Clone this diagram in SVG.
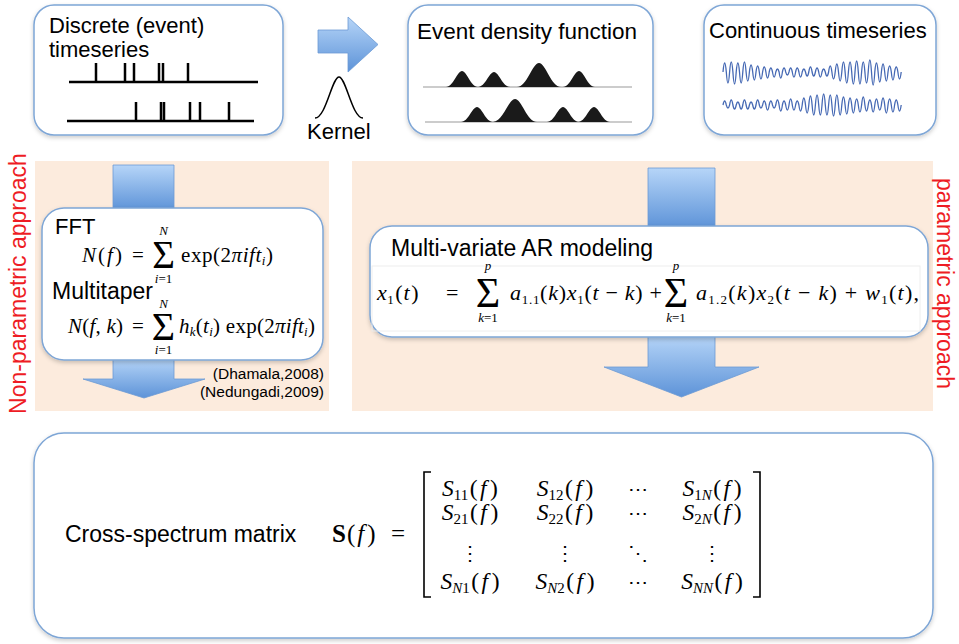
<svg xmlns="http://www.w3.org/2000/svg" width="959" height="644" viewBox="0 0 959 644">
<defs>
<linearGradient id="blue" x1="0" y1="0" x2="0" y2="1"><stop offset="0" stop-color="#b6d5f8"/><stop offset="1" stop-color="#5d93d8"/></linearGradient>
<filter id="sh" x="-10%" y="-10%" width="120%" height="130%"><feDropShadow dx="0" dy="2" stdDeviation="2" flood-color="#000" flood-opacity="0.2"/></filter>
</defs>
<style>
.box{fill:#fff;stroke:#7ea6d6;stroke-width:1.5;filter:url(#sh)}
.panel{fill:#fcebdd}
.arrow{fill:url(#blue);stroke:#6c9bd4;stroke-width:0.8}
.t{font-family:"Liberation Sans",Arial,sans-serif;font-size:22px;fill:#000}
.red{font-family:"Liberation Sans",Arial,sans-serif;font-size:23px;fill:#ee1c24}
.m{font-family:"Liberation Serif","Times New Roman",serif;font-size:21px;fill:#000}
.i{font-style:italic}
.sm{font-size:13px}
.sig{font-family:"Liberation Serif","Times New Roman",serif;fill:#000}
.ev{stroke:#000;stroke-width:2.5;fill:none}
.base{stroke:#999;stroke-width:1;fill:none}
.bump{fill:#1a1a1a}
.wave{stroke:#4669b4;stroke-width:1.3;fill:none;stroke-linejoin:round}
.mx{font-family:"Liberation Serif","Times New Roman",serif;font-size:23.5px;fill:#000}
.sub{font-size:15px}
.dots{font-family:"DejaVu Serif",serif;font-size:20px;fill:#000}
</style>
<rect width="959" height="644" fill="#fff"/>

<g id="panel-nonparametric">
<rect class="panel" x="35" y="161" width="294" height="250"/>
<text class="red" transform="translate(26,283.5) rotate(-90)" text-anchor="middle">Non-parametric approach</text>
</g>
<g id="panel-parametric">
<rect class="panel" x="352" y="161" width="581" height="250"/>
<text class="red" transform="translate(937,283.5) rotate(90)" text-anchor="middle">parametric approach</text>
</g>

<g id="connectors">
<path class="arrow" d="M318,30 H348 V17 L378,44.5 L348,72 V53 H318 Z"/>
<path class="arrow" d="M113,165 H174 V210 H113 Z"/>
<path class="arrow" d="M113,358 H174 V379 H205 L144,398 L83,379 H113 Z"/>
<path class="arrow" d="M648,168 H715 V228 H648 Z"/>
<path class="arrow" d="M648,335 H715 V367 H759 L681.5,397 L604,367 H648 Z"/>
</g>

<g id="discrete">
<rect class="box" x="34" y="5" width="249" height="130" rx="20"/>
<text class="t" x="49" y="33">Discrete (event)</text>
<text class="t" x="49" y="57">timeseries</text>
<path class="ev" d="M69,82 H258 M96,63 V82 M125,63 V82 M134,63 V82 M159,63 V82 M163,63 V82 M188,63 V82"/>
<path class="ev" d="M67,121 H254 M136,102 V121 M161,102 V121 M164,102 V121 M190,102 V121 M200,102 V121 M229,102 V121"/>
</g>

<g id="kernel">
<path d="M315,118 C326,118 332,77 339,77 C346,77 352,118 363,118" fill="none" stroke="#000" stroke-width="1.5"/>
<text class="t" x="307" y="139">Kernel</text>
</g>

<g id="density">
<rect class="box" x="408" y="5" width="245" height="130" rx="20"/>
<text class="t" x="417" y="39" style="font-size:22.5px">Event density function</text>
<path class="base" d="M423,87 H632 M425,122 H632"/>
<path class="bump" d="M446,87 C453.2,87 457.2,71 462,71 C466.8,71 470.8,87 478,87 Z M478,87 C485.2,87 489.2,72 494,72 C498.8,72 502.8,87 510,87 Z M517,87 C526.9,87 532.4,63 539,63 C545.6,63 551.1,87 561,87 Z M563,87 C570.2,87 574.2,71 579,71 C583.8,71 587.8,87 595,87 Z"/>
<path class="bump" d="M461,122 C468.2,122 472.2,107 477,107 C481.8,107 485.8,122 493,122 Z M493,122 C502.9,122 508.4,99 515,99 C521.6,99 527.1,122 537,122 Z M547,122 C554.2,122 558.2,107 563,107 C567.8,107 571.8,122 579,122 Z M578,122 C585.2,122 589.2,107 594,107 C598.8,107 602.8,122 610,122 Z"/>
</g>

<g id="continuous">
<rect class="box" x="704" y="5" width="232" height="130" rx="20"/>
<text class="t" x="709" y="38">Continuous timeseries</text>
<path class="wave" d="M723,72 q1.65,-18 3.3,0 q1.65,22 3.3,0 q1.65,-20 3.3,0 q1.65,24 3.3,0 q1.65,-18 3.3,0 q1.65,22 3.3,0 q1.65,-20 3.3,0 q1.65,18 3.3,0 q1.65,-14 3.3,0 q1.65,16 3.3,0 q1.65,-12 3.3,0 q1.65,14 3.3,0 q1.65,-10 3.3,0 q1.65,12 3.3,0 q1.65,-8 3.3,0 q1.65,10 3.3,0 q1.65,-6 3.3,0 q1.65,12 3.3,0 q1.65,-8 3.3,0 q1.65,6 3.3,0 q1.65,-8 3.3,0 q1.65,10 3.3,0 q1.65,-8 3.3,0 q1.65,10 3.3,0 q1.65,-6 3.3,0 q1.65,8 3.3,0 q1.65,-10 3.3,0 q1.65,8 3.3,0 q1.65,-8 3.3,0 q1.65,10 3.3,0 q1.65,-6 3.3,0 q1.65,8 3.3,0 q1.65,-12 3.3,0 q1.65,14 3.3,0 q1.65,-16 3.3,0 q1.65,18 3.3,0 q1.65,-20 3.3,0 q1.65,22 3.3,0 q1.65,-20 3.3,0 q1.65,24 3.3,0 q1.65,-22 3.3,0 q1.65,24 3.3,0 q1.65,-20 3.3,0 q1.65,22 3.3,0 q1.65,-24 3.3,0 q1.65,26 3.3,0 q1.65,-18 3.3,0 q1.65,20 3.3,0 q1.65,-16 3.3,0 q1.65,18 3.3,0 q1.65,-12 3.3,0 q1.65,16 3.3,0 q1.65,-10 3.3,0 q1.65,14 3.3,0"/>
<path class="wave" d="M723,105 q1.65,-8 3.3,0 q1.65,6 3.3,0 q1.65,-10 3.3,0 q1.65,8 3.3,0 q1.65,-6 3.3,0 q1.65,8 3.3,0 q1.65,-10 3.3,0 q1.65,8 3.3,0 q1.65,-6 3.3,0 q1.65,8 3.3,0 q1.65,-10 3.3,0 q1.65,6 3.3,0 q1.65,-8 3.3,0 q1.65,10 3.3,0 q1.65,-8 3.3,0 q1.65,6 3.3,0 q1.65,-10 3.3,0 q1.65,12 3.3,0 q1.65,-8 3.3,0 q1.65,10 3.3,0 q1.65,-12 3.3,0 q1.65,10 3.3,0 q1.65,-8 3.3,0 q1.65,12 3.3,0 q1.65,-14 3.3,0 q1.65,16 3.3,0 q1.65,-18 3.3,0 q1.65,20 3.3,0 q1.65,-20 3.3,0 q1.65,20 3.3,0 q1.65,-22 3.3,0 q1.65,20 3.3,0 q1.65,-20 3.3,0 q1.65,22 3.3,0 q1.65,-20 3.3,0 q1.65,20 3.3,0 q1.65,-16 3.3,0 q1.65,18 3.3,0 q1.65,-14 3.3,0 q1.65,16 3.3,0 q1.65,-12 3.3,0 q1.65,14 3.3,0 q1.65,-16 3.3,0 q1.65,12 3.3,0 q1.65,-10 3.3,0 q1.65,14 3.3,0 q1.65,-12 3.3,0 q1.65,10 3.3,0 q1.65,-14 3.3,0 q1.65,16 3.3,0 q1.65,-12 3.3,0 q1.65,14 3.3,0 q1.65,-10 3.3,0 q1.65,12 3.3,0"/>
</g>

<g id="fft-multitaper">
<rect class="box" x="42" y="208" width="281" height="152" rx="22"/>
<text class="t" x="55" y="234">FFT</text>
<text class="m" x="82" y="262" textLength="40" lengthAdjust="spacing"><tspan class="i">N</tspan>(<tspan class="i">f</tspan>)</text>
<text class="m" x="132" y="262">=</text>
<text class="sig" x="163.5" y="268" style="font-size:39px" text-anchor="middle">Σ</text>
<text class="m sm i" x="163.5" y="235" text-anchor="middle">N</text>
<text class="m sm" x="163.5" y="283" text-anchor="middle"><tspan class="i">i</tspan>=1</text>
<text class="m" x="181" y="262" textLength="92" lengthAdjust="spacing">exp(2<tspan class="i">πift</tspan><tspan class="sm i" dy="3">i</tspan><tspan dy="-3">)</tspan></text>
<text class="t" x="52" y="299" style="font-size:23px">Multitaper</text>
<text class="m" x="68" y="333" textLength="55" lengthAdjust="spacing"><tspan class="i">N</tspan>(<tspan class="i">f</tspan>, <tspan class="i">k</tspan>)</text>
<text class="m" x="132" y="333">=</text>
<text class="sig" x="163.5" y="340" style="font-size:40px" text-anchor="middle">Σ</text>
<text class="m sm i" x="163.5" y="308" text-anchor="middle">N</text>
<text class="m sm" x="163.5" y="354" text-anchor="middle"><tspan class="i">i</tspan>=1</text>
<text class="m" x="179" y="333" textLength="136" lengthAdjust="spacing"><tspan class="i">h</tspan><tspan class="sm i" dy="3">k</tspan><tspan dy="-3">(</tspan><tspan class="i">t</tspan><tspan class="sm i" dy="3">i</tspan><tspan dy="-3">) exp(2</tspan><tspan class="i">πift</tspan><tspan class="sm i" dy="3">i</tspan><tspan dy="-3">)</tspan></text>
</g>

<g id="citations">
<text class="t" x="324" y="379" style="font-size:15.5px" text-anchor="end">(Dhamala,2008)</text>
<text class="t" x="324" y="397" style="font-size:15.5px" text-anchor="end">(Nedungadi,2009)</text>
</g>

<g id="ar-model">
<rect class="box" x="370" y="226" width="558" height="111" rx="22"/>
<rect x="372" y="266" width="548" height="65" fill="none" stroke="#eeeeee" stroke-width="1"/>
<text class="t" x="391" y="256" style="font-size:23px">Multi-variate AR modeling</text>
<text class="m" x="377" y="300" style="font-size:22px"><tspan class="i">x</tspan><tspan class="sm" dy="4" dx="0.5">1</tspan><tspan dy="-4" dx="1.5">(</tspan><tspan class="i" dx="1">t</tspan><tspan dx="1.5">)</tspan></text>
<text class="m" x="446" y="300" style="font-size:22px">=</text>
<text class="sig" x="488" y="307" style="font-size:42px" text-anchor="middle">Σ</text>
<text class="m sm i" x="488" y="270" text-anchor="middle">p</text>
<text class="m sm" x="488" y="322" text-anchor="middle"><tspan class="i">k</tspan>=1</text>
<text class="m" x="510" y="300" style="font-size:22px" textLength="152" lengthAdjust="spacing"><tspan class="i">a</tspan><tspan class="sm" dy="4">1.1</tspan><tspan dy="-4">(</tspan><tspan class="i">k</tspan>)<tspan class="i">x</tspan><tspan class="sm" dy="4">1</tspan><tspan dy="-4">(</tspan><tspan class="i">t</tspan> − <tspan class="i">k</tspan>) +</text>
<text class="sig" x="676" y="307" style="font-size:42px" text-anchor="middle">Σ</text>
<text class="m sm i" x="676" y="270" text-anchor="middle">p</text>
<text class="m sm" x="676" y="322" text-anchor="middle"><tspan class="i">k</tspan>=1</text>
<text class="m" x="696" y="300" style="font-size:22px" textLength="223" lengthAdjust="spacing"><tspan class="i">a</tspan><tspan class="sm" dy="4">1.2</tspan><tspan dy="-4">(</tspan><tspan class="i">k</tspan>)<tspan class="i">x</tspan><tspan class="sm" dy="4">2</tspan><tspan dy="-4">(</tspan><tspan class="i">t</tspan> − <tspan class="i">k</tspan>) + <tspan class="i">w</tspan><tspan class="sm" dy="4">1</tspan><tspan dy="-4">(</tspan><tspan class="i">t</tspan>),</text>
</g>

<g id="cross-spectrum">
<rect class="box" x="34" y="433" width="899" height="205" rx="30"/>
<text class="t" x="65" y="542" style="font-size:23px">Cross-spectrum matrix</text>
<text class="mx" x="332" y="542" style="font-size:25px"><tspan font-weight="bold">S</tspan><tspan dx="1">(</tspan><tspan class="i" dx="2">f</tspan><tspan dx="3">)</tspan></text>
<text class="mx" x="391" y="542" style="font-size:25px">=</text>
<path d="M431,472 H424 V597 H431 M753,472 H760 V597 H753" fill="none" stroke="#000" stroke-width="1.6"/>
<g class="mx" text-anchor="middle">
<text x="470" y="496"><tspan class="i">S</tspan><tspan class="sub" dy="4">11</tspan><tspan dy="-4" dx="1.5">(</tspan><tspan class="i" dx="2.5">f</tspan><tspan dx="3.5">)</tspan></text>
<text x="565" y="496"><tspan class="i">S</tspan><tspan class="sub" dy="4">12</tspan><tspan dy="-4" dx="1.5">(</tspan><tspan class="i" dx="2.5">f</tspan><tspan dx="3.5">)</tspan></text>
<text x="712" y="496"><tspan class="i">S</tspan><tspan class="sub" dy="4">1<tspan class="i">N</tspan></tspan><tspan dy="-4" dx="1.5">(</tspan><tspan class="i" dx="2.5">f</tspan><tspan dx="3.5">)</tspan></text>
<text x="470" y="520"><tspan class="i">S</tspan><tspan class="sub" dy="4">21</tspan><tspan dy="-4" dx="1.5">(</tspan><tspan class="i" dx="2.5">f</tspan><tspan dx="3.5">)</tspan></text>
<text x="565" y="520"><tspan class="i">S</tspan><tspan class="sub" dy="4">22</tspan><tspan dy="-4" dx="1.5">(</tspan><tspan class="i" dx="2.5">f</tspan><tspan dx="3.5">)</tspan></text>
<text x="712" y="520"><tspan class="i">S</tspan><tspan class="sub" dy="4">2<tspan class="i">N</tspan></tspan><tspan dy="-4" dx="1.5">(</tspan><tspan class="i" dx="2.5">f</tspan><tspan dx="3.5">)</tspan></text>
<text x="470" y="589"><tspan class="i">S</tspan><tspan class="sub" dy="4"><tspan class="i">N</tspan>1</tspan><tspan dy="-4" dx="1.5">(</tspan><tspan class="i" dx="2.5">f</tspan><tspan dx="3.5">)</tspan></text>
<text x="565" y="589"><tspan class="i">S</tspan><tspan class="sub" dy="4"><tspan class="i">N</tspan>2</tspan><tspan dy="-4" dx="1.5">(</tspan><tspan class="i" dx="2.5">f</tspan><tspan dx="3.5">)</tspan></text>
<text x="712" y="589"><tspan class="i">S</tspan><tspan class="sub i" dy="4">NN</tspan><tspan dy="-4" dx="1.5">(</tspan><tspan class="i" dx="2.5">f</tspan><tspan dx="3.5">)</tspan></text>
</g>
<g class="dots" text-anchor="middle">
<text x="638" y="496">⋯</text>
<text x="638" y="520">⋯</text>
<text x="638" y="589">⋯</text>
<text x="470" y="560">⋮</text>
<text x="565" y="560">⋮</text>
<text x="638" y="560">⋱</text>
<text x="712" y="560">⋮</text>
</g>
</g>
</svg>
